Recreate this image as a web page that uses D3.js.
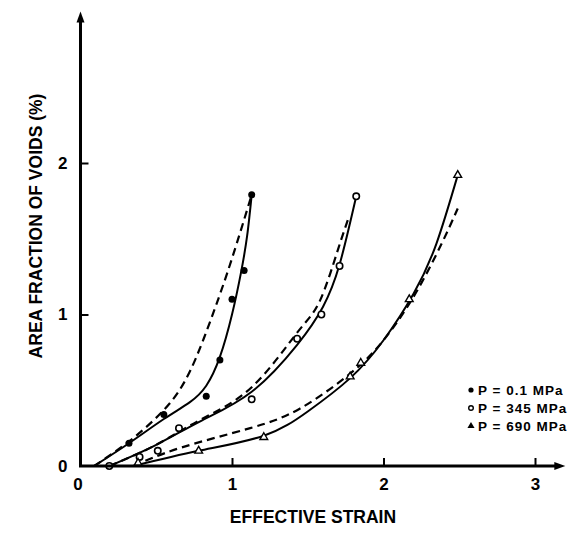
<!DOCTYPE html>
<html>
<head>
<meta charset="utf-8">
<script src="https://cdn.jsdelivr.net/npm/d3@7/dist/d3.min.js"></script>
<style>
  html, body { margin: 0; padding: 0; background: #fff; }
  svg { display: block; }
  text { font-family: "Liberation Sans", Arial, Helvetica, sans-serif; font-weight: bold; fill: #000; }
</style>
</head>
<body>
<svg id="chart" width="569" height="537"></svg>
<script>
// Axis ticks
const xTicks = [0, 1, 2, 3];
const yTicks = [0, 1, 2];

// Legend labels (one per hydrostatic pressure)
const seriesLabels = ["P = 0.1 MPa", "P = 345 MPa", "P = 690 MPa"];

// Measured points: [effective strain, area fraction of voids %]
const pts01 = [[0.32, 0.15], [0.55, 0.34], [0.83, 0.46], [0.92, 0.70], [1.00, 1.10], [1.08, 1.29], [1.13, 1.79]];
const pts345 = [[0.19, 0.00], [0.39, 0.06], [0.51, 0.10], [0.65, 0.25], [1.13, 0.44], [1.43, 0.84], [1.59, 1.00], [1.71, 1.32], [1.82, 1.78]];
const pts690 = [[0.38, 0.02], [0.78, 0.10], [1.21, 0.19], [1.78, 0.59], [1.85, 0.68], [2.17, 1.10], [2.49, 1.92]];

// Fitted curves through the measurements (solid)
const fit01 = [[0.09, 0], [0.32, 0.15], [0.55, 0.31], [0.72, 0.42], [0.83, 0.53], [0.92, 0.72], [1.00, 1.00], [1.06, 1.28], [1.10, 1.52], [1.13, 1.79]];
const fit345 = [[0.19, 0], [0.50, 0.14], [0.80, 0.30], [1.13, 0.49], [1.43, 0.80], [1.60, 1.05], [1.71, 1.33], [1.82, 1.78]];
const fit690 = [[0.35, 0], [0.78, 0.10], [1.21, 0.20], [1.50, 0.36], [1.78, 0.58], [2.00, 0.83], [2.20, 1.14], [2.35, 1.47], [2.49, 1.92]];

// Model predictions (dashed)
const model01 = [[0.09, 0], [0.33, 0.17], [0.55, 0.37], [0.72, 0.62], [0.88, 1.02], [1.00, 1.37], [1.13, 1.79]];
const model345 = [[0.19, 0], [0.50, 0.14], [0.80, 0.31], [1.13, 0.52], [1.43, 0.88], [1.58, 1.09], [1.70, 1.43], [1.77, 1.64]];
const model690 = [[0.35, 0], [0.66, 0.12], [1.12, 0.25], [1.45, 0.38], [1.78, 0.61], [2.00, 0.83], [2.20, 1.12], [2.38, 1.46], [2.49, 1.70]];

const svg = d3.select("#chart");
const x = d3.scaleLinear().domain([0, 3.2]).range([80.5, 565.3]);
const y = d3.scaleLinear().domain([0, 3]).range([466, 11.5]);

const line = d3.line().x(d => x(d[0])).y(d => y(d[1])).curve(d3.curveNatural);

// Curves
[fit01, fit345, fit690].forEach(c => {
  svg.append("path").attr("d", line(c))
    .attr("fill", "none").attr("stroke", "#000").attr("stroke-width", 2);
});
[model01, model345, model690].forEach(c => {
  svg.append("path").attr("d", line(c))
    .attr("fill", "none").attr("stroke", "#000").attr("stroke-width", 2.2)
    .attr("stroke-dasharray", "8,5");
});

// Markers
const markers = svg.append("g");
markers.selectAll("circle.s1").data(pts01).join("circle").attr("class", "s1")
  .attr("cx", d => x(d[0])).attr("cy", d => y(d[1])).attr("r", 3.5).attr("fill", "#000");
markers.selectAll("circle.s2").data(pts345).join("circle").attr("class", "s2")
  .attr("cx", d => x(d[0])).attr("cy", d => y(d[1])).attr("r", 3.2)
  .attr("fill", "#fff").attr("stroke", "#000").attr("stroke-width", 1.6);
const tri = d3.symbol().type(d3.symbolTriangle).size(26);
markers.selectAll("path.s3").data(pts690).join("path").attr("class", "s3")
  .attr("transform", d => `translate(${x(d[0])},${y(d[1])})`)
  .attr("d", tri).attr("fill", "#fff").attr("stroke", "#000").attr("stroke-width", 1.4);

// Axes
const xAxis = d3.axisBottom(x).tickValues(xTicks).tickFormat(d3.format("d"))
  .tickSizeInner(-8).tickSizeOuter(0).tickPadding(12);
const gx = svg.append("g").attr("transform", `translate(0,${y(0)})`).call(xAxis);
const yAxis = d3.axisLeft(y).tickValues(yTicks).tickFormat(d3.format("d"))
  .tickSizeInner(-8).tickSizeOuter(0).tickPadding(13);
const gy = svg.append("g").attr("transform", `translate(${x(0)},0)`).call(yAxis);
[gx, gy].forEach(g => {
  g.select(".domain").remove();
  g.selectAll(".tick line").attr("stroke", "#000").attr("stroke-width", 2);
  g.selectAll(".tick").filter(d => d === 0).select("line").remove();
  g.selectAll(".tick text").attr("font-size", 17).attr("font-family", null);
});
gx.selectAll(".tick").filter(d => d === 0).select("text").attr("dx", -3);

// Axis lines with arrowheads
svg.append("line").attr("x1", x(0)).attr("y1", y(0)).attr("x2", x(0)).attr("y2", y(3) + 6)
  .attr("stroke", "#000").attr("stroke-width", 3);
svg.append("line").attr("x1", x(0) - 1.5).attr("y1", y(0)).attr("x2", x(3.2) - 6).attr("y2", y(0))
  .attr("stroke", "#000").attr("stroke-width", 3);
svg.append("path")
  .attr("d", `M${x(0)},${y(3)} L${x(0) - 4},${y(3) + 11} L${x(0) + 4},${y(3) + 11} Z`).attr("fill", "#000");
svg.append("path")
  .attr("d", `M${x(3.2)},${y(0)} L${x(3.2) - 11},${y(0) - 4} L${x(3.2) - 11},${y(0) + 4} Z`).attr("fill", "#000");

// Axis titles
svg.append("text").attr("x", 313).attr("y", 523).attr("text-anchor", "middle")
  .attr("font-size", 17.5).text("EFFECTIVE STRAIN");
svg.append("text").attr("transform", "translate(42,226) rotate(-90)").attr("text-anchor", "middle")
  .attr("font-size", 17.5).text("AREA FRACTION OF VOIDS (%)");

// Legend
const legend = svg.append("g").attr("transform", "translate(471,390)");
seriesLabels.forEach((lab, i) => {
  const g = legend.append("g").attr("transform", `translate(0,${i * 18})`);
  if (i === 0) g.append("circle").attr("r", 2.6).attr("fill", "#000");
  if (i === 1) g.append("circle").attr("r", 2.3).attr("fill", "#fff").attr("stroke", "#000").attr("stroke-width", 1.4);
  if (i === 2) g.append("path").attr("d", d3.symbol().type(d3.symbolTriangle).size(22)).attr("fill", "#000");
  g.append("text").attr("x", 7).attr("y", 5).attr("font-size", 13.5)
    .attr("letter-spacing", 1).text(lab);
});
</script>
</body>
</html>
